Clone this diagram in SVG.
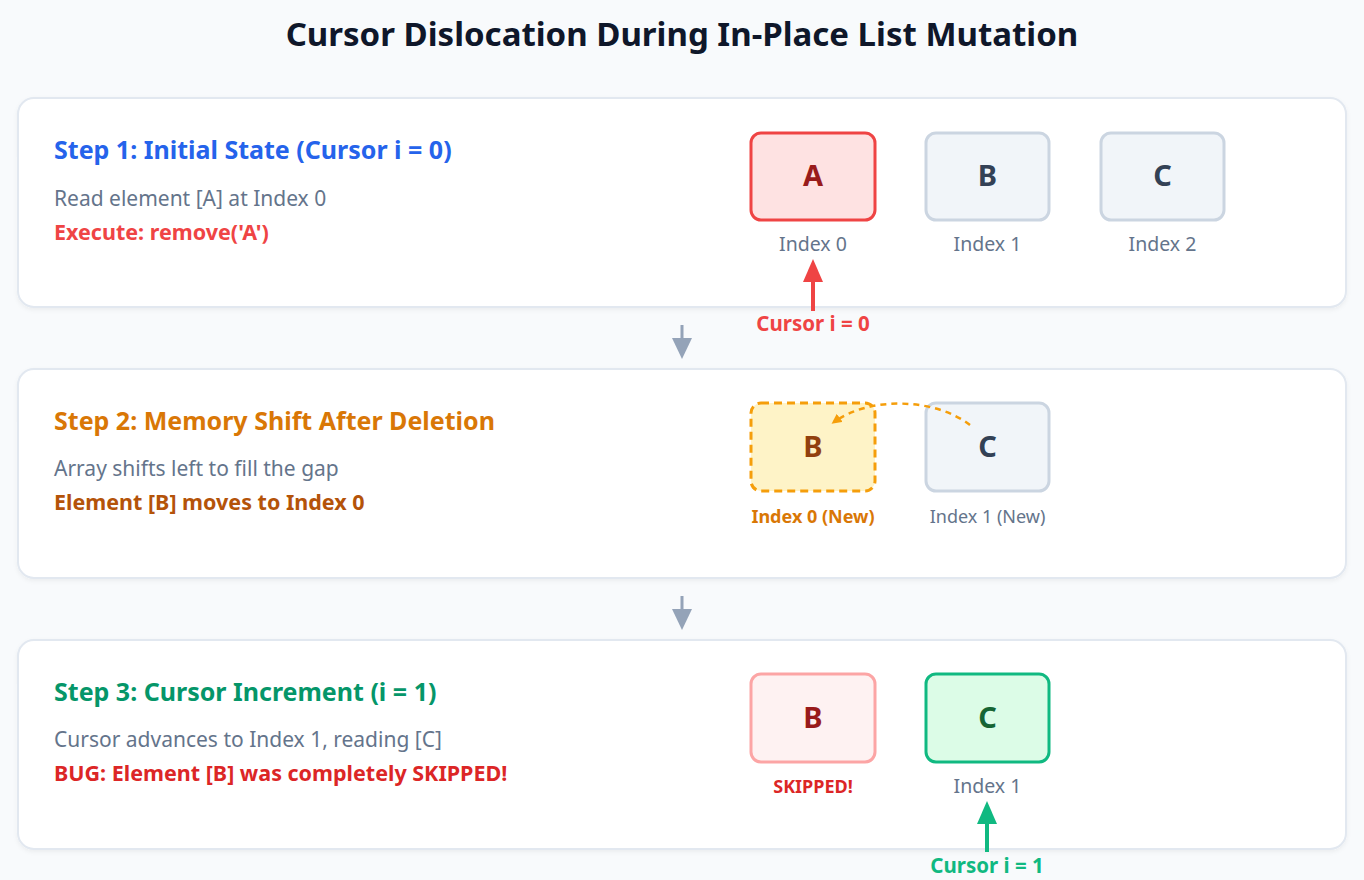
<svg xmlns="http://www.w3.org/2000/svg" width="1364" height="880" viewBox="0 0 1364 880">
<defs>
<style>
text{font-family:"Noto Sans","Open Sans","Liberation Sans",sans-serif}
.title{font-size:33px;font-weight:700;fill:#0f172a}
.panel{fill:#ffffff;stroke:#e2e8f0;stroke-width:2}
.h{font-size:25px;font-weight:700}
.d{font-size:21px;fill:#64748b}
.e{font-size:21.5px;font-weight:700}
.box{stroke-width:3}
.let{font-size:29px;font-weight:700;text-anchor:middle}
.idx{font-size:19.5px;fill:#64748b;text-anchor:middle}
.idxs{font-size:18px;text-anchor:middle}
.cur{font-size:20.5px;font-weight:700;text-anchor:middle}
</style>
<filter id="sh" x="-5%" y="-10%" width="110%" height="130%">
<feDropShadow dx="0" dy="2" stdDeviation="2" flood-color="#0f172a" flood-opacity="0.05"/>
</filter>
<marker id="mo" markerWidth="10" markerHeight="10" refX="7" refY="5" orient="auto" markerUnits="userSpaceOnUse">
<path d="M0,0 L10,5 L0,10 z" fill="#f59e0b"/>
</marker>
</defs>
<rect width="1364" height="880" fill="#f8fafc"/>
<text class="title" x="682" y="46" text-anchor="middle">Cursor Dislocation During In-Place List Mutation</text>

<g id="step1">
<rect class="panel" x="18" y="98" width="1328" height="209" rx="16" filter="url(#sh)"/>
<text class="h" x="54" y="159" fill="#2563eb">Step 1: Initial State (Cursor i = 0)</text>
<text class="d" x="54" y="206">Read element [A] at Index 0</text>
<text class="e" x="54" y="240" fill="#ef4444">Execute: remove('A')</text>
</g>
<g id="s1-A">
<rect class="box" x="751" y="133" width="124" height="87" rx="10" fill="#fee2e2" stroke="#ef4444"/>
<text class="let" x="813" y="186" fill="#991b1b">A</text>
<text class="idx" x="813" y="251">Index 0</text>
</g>
<g id="s1-B">
<rect class="box" x="926" y="133" width="123" height="87" rx="10" fill="#f1f5f9" stroke="#cbd5e1"/>
<text class="let" x="987.5" y="186" fill="#334155">B</text>
<text class="idx" x="987.5" y="251">Index 1</text>
</g>
<g id="s1-C">
<rect class="box" x="1101" y="133" width="123" height="87" rx="10" fill="#f1f5f9" stroke="#cbd5e1"/>
<text class="let" x="1162.5" y="186" fill="#334155">C</text>
<text class="idx" x="1162.5" y="251">Index 2</text>
</g>
<g id="cursor0">
<text class="cur" x="813" y="331" fill="#ef4444">Cursor i = 0</text>
</g>

<g id="step2">
<rect class="panel" x="18" y="369" width="1328" height="209" rx="16" filter="url(#sh)"/>
<text class="h" x="54" y="430" fill="#d97706">Step 2: Memory Shift After Deletion</text>
<text class="d" x="54" y="476">Array shifts left to fill the gap</text>
<text class="e" x="54" y="510" fill="#b45309">Element [B] moves to Index 0</text>
</g>
<g id="s2-B">
<rect class="box" x="751" y="403" width="124" height="88" rx="10" fill="#fef3c7" stroke="#f59e0b" stroke-dasharray="8,5"/>
<text class="let" x="813" y="457" fill="#92400e">B</text>
<text class="idxs" x="813" y="523" fill="#d97706" font-weight="700">Index 0 (New)</text>
</g>
<g id="s2-C">
<rect class="box" x="926" y="403" width="123" height="88" rx="10" fill="#f1f5f9" stroke="#cbd5e1"/>
<text class="let" x="987.5" y="457" fill="#334155">C</text>
<text class="idxs" x="987.5" y="523" fill="#64748b">Index 1 (New)</text>
</g>

<g id="step3">
<rect class="panel" x="18" y="640" width="1328" height="209" rx="16" filter="url(#sh)"/>
<text class="h" x="54" y="701" fill="#059669">Step 3: Cursor Increment (i = 1)</text>
<text class="d" x="54" y="747">Cursor advances to Index 1, reading [C]</text>
<text class="e" x="54" y="781" fill="#dc2626">BUG: Element [B] was completely SKIPPED!</text>
</g>
<g id="s3-B">
<rect class="box" x="751" y="674" width="124" height="88" rx="10" fill="#fef2f2" stroke="#fca5a5"/>
<text class="let" x="813" y="728" fill="#991b1b">B</text>
<text class="idxs" x="813" y="793" fill="#dc2626" font-weight="700">SKIPPED!</text>
</g>
<g id="s3-C">
<rect class="box" x="926" y="674" width="123" height="88" rx="10" fill="#dcfce7" stroke="#10b981"/>
<text class="let" x="987.5" y="728" fill="#166534">C</text>
<text class="idx" x="987.5" y="793">Index 1</text>
</g>
<g id="cursor1">
<text class="cur" x="987" y="873" fill="#10b981">Cursor i = 1</text>
</g>

<g id="connectors">
<line x1="813" y1="311" x2="813" y2="280" stroke="#ef4444" stroke-width="4"/>
<path d="M813,259 L803,282 L823,282 z" fill="#ef4444"/>
<line x1="682" y1="325" x2="682" y2="340" stroke="#94a3b8" stroke-width="3"/>
<path d="M672,338 L692,338 L682,359 z" fill="#94a3b8"/>
<line x1="682" y1="596" x2="682" y2="611" stroke="#94a3b8" stroke-width="3"/>
<path d="M672,609 L692,609 L682,630 z" fill="#94a3b8"/>
<path d="M970,425 C935,398 870,396 834,422" fill="none" stroke="#f59e0b" stroke-width="2.5" stroke-dasharray="6,5" marker-end="url(#mo)"/>
<line x1="987" y1="852" x2="987" y2="822" stroke="#10b981" stroke-width="4"/>
<path d="M987,801 L977,824 L997,824 z" fill="#10b981"/>
</g>
</svg>
